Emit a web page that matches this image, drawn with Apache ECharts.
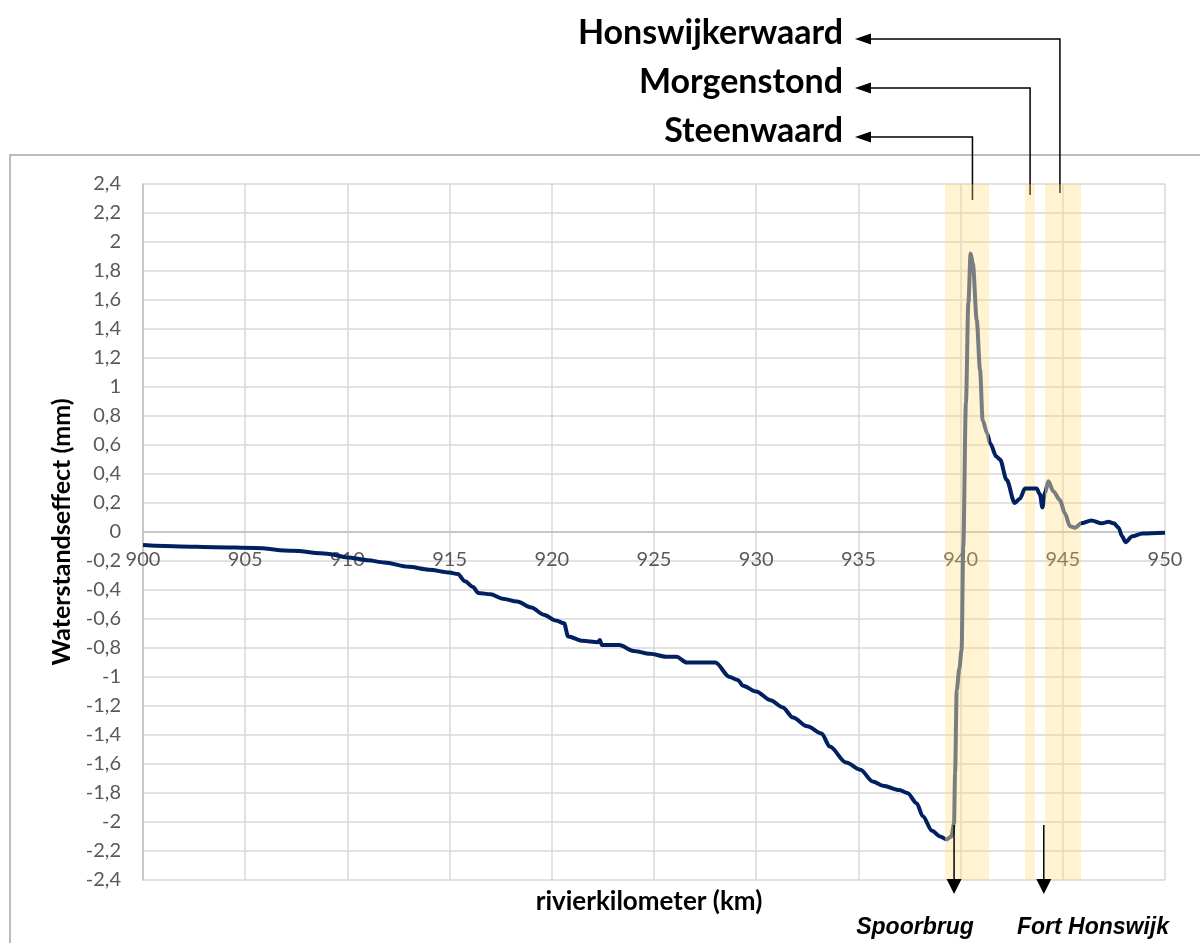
<!DOCTYPE html>
<html><head><meta charset="utf-8">
<script src="https://cdn.jsdelivr.net/npm/echarts@6/dist/echarts.min.js"></script>
<style>html,body{margin:0;padding:0;background:#fff}#c{width:1200px;height:943px}</style>
</head><body><div id="c"></div>
<script>
// ---- data ----
const km = [900.0,901.8,903.5,905.5,907.3,909.0,910.0,911.0,911.8,913.0,914.0,915.0,915.4,915.75,916.15,916.4,917.0,917.6,918.3,919.0,919.6,920.2,920.6,920.8,921.5,922.25,922.35,922.45,923.3,924.0,924.8,925.6,926.1,926.6,928.0,928.7,929.1,929.35,930.0,930.7,931.3,931.8,932.5,933.2,933.6,934.4,935.1,935.7,936.2,937.0,937.4,937.85,938.15,938.6,939.0,939.3,939.55,939.68,939.73,939.81,939.94,940.05,940.13,940.26,940.38,940.49,940.6,940.79,940.95,941.08,941.3,941.45,941.75,941.93,942.25,942.65,942.9,943.15,943.72,943.88,944.0,944.13,944.29,944.54,944.86,945.1,945.35,945.6,945.9,946.4,946.9,947.24,947.5,947.73,947.9,948.07,948.4,948.9,950.0];
const effect = [-0.09,-0.10,-0.105,-0.11,-0.13,-0.15,-0.175,-0.195,-0.21,-0.24,-0.26,-0.28,-0.29,-0.34,-0.38,-0.42,-0.43,-0.46,-0.48,-0.52,-0.57,-0.61,-0.63,-0.72,-0.75,-0.76,-0.745,-0.78,-0.78,-0.82,-0.84,-0.86,-0.86,-0.90,-0.90,-1.00,-1.02,-1.06,-1.10,-1.16,-1.21,-1.28,-1.34,-1.39,-1.48,-1.59,-1.64,-1.72,-1.75,-1.78,-1.80,-1.87,-1.96,-2.06,-2.10,-2.12,-2.10,-2.01,-1.66,-1.09,-0.94,-0.81,-0.10,0.89,1.58,1.92,1.85,1.46,1.12,0.77,0.68,0.61,0.52,0.50,0.36,0.20,0.23,0.30,0.30,0.26,0.17,0.27,0.35,0.28,0.22,0.13,0.04,0.03,0.06,0.08,0.06,0.07,0.06,0.03,-0.03,-0.07,-0.03,-0.01,-0.005];
const bandNames = ['Steenwaard','Morgenstond','Honswijkerwaard'];
const bandStart = [939.24, 943.15, 944.13];
const bandEnd = [941.39, 943.64, 945.89];
const bandPointerKm = [940.58, 943.4, 944.86];
const markerNames = ['Spoorbrug','Fort Honswijk'];
const markerKm = [939.68, 944.07];
const xTicks = [900,905,910,915,920,925,930,935,940,945,950];
const yMin = -2.4, yMax = 2.4;

// ---- styles ----
const NAVY = '#002060', GRAY = '#7a7d80';
const GRID_TOP = 184, GRID_BOTTOM = 63, H = 943;
const plotH = H - GRID_TOP - GRID_BOTTOM;
const chart = echarts.init(document.getElementById('c'), null, {renderer:'canvas'});
const fmt = v => String(Math.round(v*10)/10).replace('.', ',');

const option = {
  backgroundColor:'#fff',
  animation:false,
  grid:{left:143, right:35, top:GRID_TOP, bottom:GRID_BOTTOM, containLabel:false},
  xAxis:{type:'value', min:xTicks[0], max:xTicks[xTicks.length-1], interval:5,
    position:'bottom', offset: -plotH * (0 - yMin) / (yMax - yMin),
    axisLine:{show:true, onZero:false, lineStyle:{color:'#bfbfbf', width:1.5}},
    axisTick:{show:false},
    axisLabel:{color:'#595959', fontSize:20, fontFamily:'Lato', margin:18, formatter:v=>String(v)},
    splitLine:{show:true, lineStyle:{color:'#d9d9d9', width:1.5}}},
  yAxis:{type:'value', min:yMin, max:yMax, interval:0.2,
    axisLine:{show:true, lineStyle:{color:'#bfbfbf', width:1.5}},
    axisTick:{show:false},
    axisLabel:{color:'#595959', fontSize:20, fontFamily:'Lato', margin:22, formatter:fmt},
    splitLine:{show:true, lineStyle:{color:'#d9d9d9', width:1.5}}},
  visualMap:{type:'piecewise', show:false, dimension:0, seriesIndex:1,
    pieces:[
      {lt:bandStart[0], color:NAVY},
      {gte:bandStart[0], lt:bandEnd[0], color:GRAY},
      {gte:bandEnd[0], lt:bandStart[2], color:NAVY},
      {gte:bandStart[2], lt:bandEnd[2], color:GRAY},
      {gte:bandEnd[2], color:NAVY}
    ]},
  series:[
    {type:'line', data:[], silent:true, z:1,
      markArea:{silent:true, itemStyle:{color:'rgba(255,214,102,0.30)'},
        data: bandStart.map((s,i)=>[{xAxis:s},{xAxis:bandEnd[i]}])}},
    {type:'line', data: km.map((k,i)=>[k, effect[i]]), showSymbol:false, z:3,
      smooth:0.3, smoothMonotone:'x', lineStyle:{width:4}}
  ]
};
chart.setOption(option);

// ---- annotations ----
const px = k => chart.convertToPixel({xAxisIndex:0}, k);
const g = [];
g.push({type:'rect', shape:{x:10, y:155, width:1210, height:820}, style:{fill:null, stroke:'#a6a6a6', lineWidth:1.5}, z:0, silent:true});
g.push({type:'text', x:62, y:532, rotation:Math.PI/2, style:{text:'Waterstandseffect (mm)', font:'bold 25px Lato', fill:'#000', align:'center', verticalAlign:'middle'}});
g.push({type:'text', x:649, y:902, style:{text:'rivierkilometer (km)', font:'bold 26px Lato', fill:'#000', align:'center', verticalAlign:'middle'}});
const labelY = [131, 82, 33];
const lineEndY = [200, 195, 193];
bandNames.forEach((n,i)=>{
  const xv = px(bandPointerKm[i]);
  const ay = labelY[i] + 6;
  g.push({type:'text', x:843, y:labelY[i], style:{text:n, font:'bold 34px Lato', fill:'#000', align:'right', verticalAlign:'middle'}});
  g.push({type:'polyline', shape:{points:[[866, ay],[xv, ay],[xv, lineEndY[i]]]}, style:{stroke:'#000', lineWidth:1.5, fill:null}});
  g.push({type:'polygon', shape:{points:[[855, ay],[871, ay-5.5],[871, ay+5.5]]}, style:{fill:'#000'}});
});
const textX = [915, 1093];
markerNames.forEach((n,i)=>{
  const xv = px(markerKm[i]);
  g.push({type:'line', shape:{x1:xv, y1:825, x2:xv, y2:881}, style:{stroke:'#000', lineWidth:1.5}, z:10});
  g.push({type:'polygon', shape:{points:[[xv-7.5, 879],[xv+7.5, 879],[xv, 894]]}, style:{fill:'#000'}, z:10});
  g.push({type:'text', x:textX[i], y:928, style:{text:n, font:'italic bold 23px "Liberation Sans"', fill:'#000', align:'center', verticalAlign:'middle'}});
});
chart.setOption({graphic:g});
</script>
</body></html>
